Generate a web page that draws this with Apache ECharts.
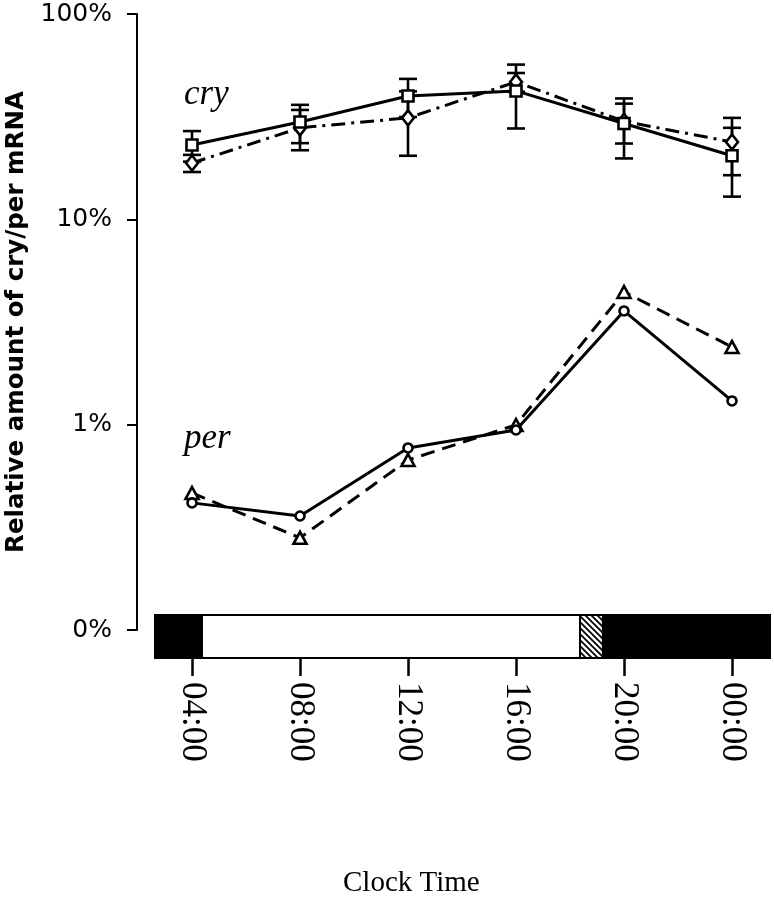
<!DOCTYPE html>
<html>
<head>
<meta charset="utf-8">
<script src="https://cdn.jsdelivr.net/npm/echarts@6/dist/echarts.min.js"></script>
<style>
html,body{margin:0;padding:0;background:#fff;}
#chart{width:774px;height:899px;}
</style>
</head>
<body>
<div id="chart"></div>
<script>
// ---- data ----
const hours = [4, 8, 12, 16, 20, 24];
const tickLabels = ['04:00', '08:00', '12:00', '16:00', '20:00', '00:00'];
const yTickValues = [0.1, 1, 10, 100];
const yTickLabels = ['0%', '1%', '10%', '100%'];

// cry (squares, solid) mean and SD (%)
const crySolid = [23.0, 29.8, 39.9, 42.2, 29.3, 20.4];
const crySolidSD = [3.9, 6.3, 8.4, 14.5, 9.5, 7.5];
// cry (diamonds, dash-dot) mean and SD (%)
const cryDash = [18.8, 27.9, 31.2, 46.7, 30.0, 23.8];
const cryDashSD = [1.8, 6.2, 10.8, 4.9, 6.6, 7.4];
// per (circles, solid)
const perSolid = [0.416, 0.359, 0.770, 0.942, 3.58, 1.305];
// per (triangles, dashed)
const perDash = [0.465, 0.281, 0.673, 0.997, 4.43, 2.39];

// light regime: [start hour, end hour, kind] kind 0 dark, 1 light, 2 twilight
const lightRegime = [
  [2.63, 4.37, 0],
  [4.37, 18.37, 1],
  [18.37, 19.22, 2],
  [19.22, 25.407, 0]
];

const xMin = 1.963, xMax = 25.407;

// ---- helpers ----
function pts(vals) { return vals.map((v, i) => [hours[i], v]); }
function errs(vals, sd) { return vals.map((v, i) => [hours[i], v - sd[i], v + sd[i]]); }

const hatch = document.createElement('canvas');
hatch.width = 6; hatch.height = 6;
(function () {
  const c = hatch.getContext('2d');
  c.fillStyle = '#fff'; c.fillRect(0, 0, 6, 6);
  c.strokeStyle = '#000'; c.lineWidth = 1.8;
  c.beginPath();
  c.moveTo(-1, -1); c.lineTo(7, 7);
  c.moveTo(-4, 2); c.lineTo(4, 10);
  c.moveTo(2, -4); c.lineTo(10, 4);
  c.stroke();
})();

function errorRender(params, api) {
  const x = api.value(0);
  const lo = api.coord([x, api.value(1)]);
  const hi = api.coord([x, api.value(2)]);
  const hw = 9;
  const st = { stroke: '#000', lineWidth: 2.6, fill: null };
  return {
    type: 'group',
    children: [
      { type: 'line', shape: { x1: lo[0], y1: lo[1], x2: hi[0], y2: hi[1] }, style: st },
      { type: 'line', shape: { x1: lo[0] - hw, y1: lo[1], x2: lo[0] + hw, y2: lo[1] }, style: st },
      { type: 'line', shape: { x1: hi[0] - hw, y1: hi[1], x2: hi[0] + hw, y2: hi[1] }, style: st }
    ]
  };
}

function regimeRender(params, api) {
  const p1 = api.coord([api.value(0), 1]);
  const p2 = api.coord([api.value(1), 0]);
  const kind = api.value(2);
  let fill = '#000';
  if (kind === 1) fill = '#fff';
  if (kind === 2) fill = { image: hatch, repeat: 'repeat' };
  return {
    type: 'rect',
    shape: { x: p1[0], y: p1[1], width: p2[0] - p1[0], height: p2[1] - p1[1] },
    style: { fill: fill, stroke: '#000', lineWidth: 2 }
  };
}

const lineBase = {
  type: 'line', xAxisIndex: 0, yAxisIndex: 0, z: 3,
  itemStyle: { color: '#fff', borderColor: '#000', borderWidth: 2.6 },
  emphasis: { disabled: true }, animation: false
};

const option = {
  animation: false,
  backgroundColor: '#fff',
  grid: [
    { left: 137, right: 4, top: 14, bottom: 269, containLabel: false, outerBoundsMode: 'none' },
    { left: 137, right: 4, top: 615, bottom: 241, containLabel: false, outerBoundsMode: 'none' }
  ],
  xAxis: [
    { type: 'value', gridIndex: 0, min: xMin, max: xMax, show: false },
    {
      type: 'value', gridIndex: 1, min: xMin, max: xMax,
      axisLine: { show: false },
      splitLine: { show: false },
      axisTick: { show: true, customValues: hours, length: 18, lineStyle: { color: '#000', width: 2.5 } },
      axisLabel: {
        customValues: hours, rotate: -90, margin: 24,
        formatter: v => tickLabels[hours.indexOf(v)] || '',
        color: '#000', fontFamily: 'Liberation Serif', fontSize: 35
      }
    }
  ],
  yAxis: [
    {
      type: 'log', gridIndex: 0, logBase: 10, min: 0.1, max: 100,
      axisLine: { show: true, lineStyle: { color: '#000', width: 2 } },
      axisTick: { show: true, length: 10, lineStyle: { color: '#000', width: 2 } },
      splitLine: { show: false },
      minorTick: { show: false },
      axisLabel: {
        margin: 25, color: '#000', fontFamily: 'DejaVu Sans', fontSize: 25,
        formatter: v => { const i = yTickValues.findIndex(t => Math.abs(t - v) / t < 1e-6); return i >= 0 ? yTickLabels[i] : ''; }
      },
      name: 'Relative amount of cry/per mRNA',
      nameLocation: 'middle', nameGap: 99,
      nameTextStyle: { color: '#000', fontFamily: 'DejaVu Sans', fontWeight: 'bold', fontSize: 24.5 }
    },
    { type: 'value', gridIndex: 1, min: 0, max: 1, show: false }
  ],
  graphic: [
    { type: 'text', left: 184, top: 77, style: { text: 'cry', font: 'italic 35px "Liberation Serif"', fill: '#000' } },
    { type: 'text', left: 184, top: 421, style: { text: 'per', font: 'italic 35px "Liberation Serif"', fill: '#000' } },
    { type: 'text', left: 343, top: 869, style: { text: 'Clock Time', font: '29px "Liberation Serif"', fill: '#000' } }
  ],
  series: [
    { type: 'custom', xAxisIndex: 1, yAxisIndex: 1, renderItem: regimeRender, data: lightRegime, z: 1, silent: true },
    { type: 'custom', xAxisIndex: 0, yAxisIndex: 0, renderItem: errorRender, data: errs(crySolid, crySolidSD), z: 1, silent: true },
    { type: 'custom', xAxisIndex: 0, yAxisIndex: 0, renderItem: errorRender, data: errs(cryDash, cryDashSD), z: 1, silent: true },
    Object.assign({}, lineBase, {
      name: 'cry dash', data: pts(cryDash), symbol: 'diamond', symbolSize: [12, 15],
      lineStyle: { color: '#000', width: 3, type: [14, 6, 3, 6] }
    }),
    Object.assign({}, lineBase, {
      name: 'cry solid', data: pts(crySolid), symbol: 'rect', symbolSize: 11,
      lineStyle: { color: '#000', width: 3, type: 'solid' }
    }),
    Object.assign({}, lineBase, {
      name: 'per dash', data: pts(perDash), symbol: 'triangle', symbolSize: [13, 12],
      lineStyle: { color: '#000', width: 3, type: [14, 8] }
    }),
    Object.assign({}, lineBase, {
      name: 'per solid', data: pts(perSolid), symbol: 'circle', symbolSize: 9,
      lineStyle: { color: '#000', width: 3, type: 'solid' }
    })
  ]
};

const chart = echarts.init(document.getElementById('chart'), null, { renderer: 'canvas' });
chart.setOption(option);
</script>
</body>
</html>
